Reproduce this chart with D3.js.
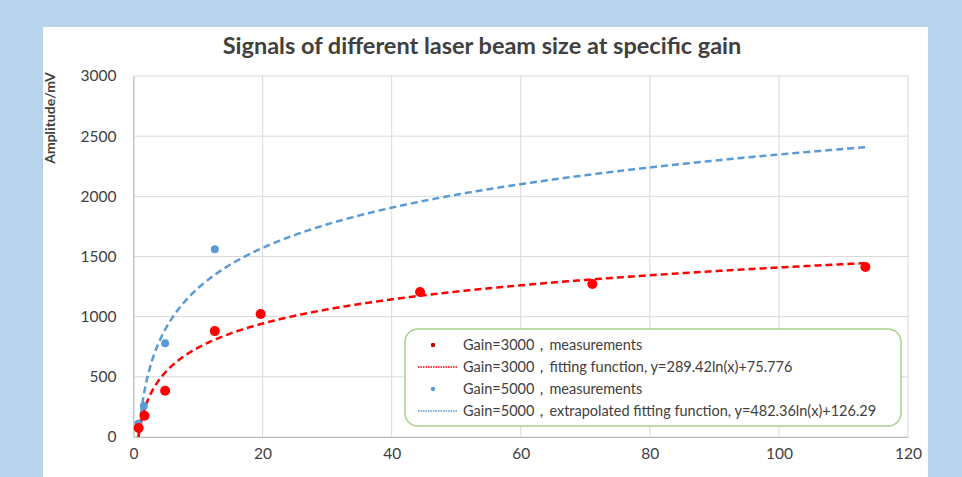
<!DOCTYPE html>
<html>
<head>
<meta charset="utf-8">
<script src="https://cdn.jsdelivr.net/npm/d3@7"></script>
<style>
  body { margin: 0; background: #b7d4ec; }
  svg { display: block; }
  text { font-family: Lato, "Open Sans", sans-serif; fill: #404040; }
</style>
</head>
<body>
<div class="chart"></div>
<script>
// chart data
var gain3000X = [0.8, 1.7, 4.9, 12.6, 19.7, 44.4, 71.1, 113.4];
var gain3000Y = [75, 177, 385, 880, 1022, 1205, 1272, 1413];
var gain5000X = [0.75, 1.6, 4.9, 12.6];
var gain5000Y = [110, 258, 779, 1560];
// fit coefficients: y = a*ln(x) + b
var fit3000 = [289.42, 75.776];
var fit5000 = [482.36, 126.29];
var fitRange = [0.77, 113.4];
var xTicks = [0, 20, 40, 60, 80, 100, 120];
var yTicks = [0, 500, 1000, 1500, 2000, 2500, 3000];
var legendLabels = [
  "Gain=3000\uff0cmeasurements",
  "Gain=3000\uff0cfitting function, y=289.42ln(x)+75.776",
  "Gain=5000\uff0cmeasurements",
  "Gain=5000\uff0cextrapolated fitting function, y=482.36ln(x)+126.29"
];

var width = 962, height = 477;
var plot = {left: 133.5, right: 908, top: 76, bottom: 437};

var svg = d3.select(".chart").append("svg")
  .attr("width", width)
  .attr("height", height);

// white panel
svg.append("rect")
  .attr("x", 43).attr("y", 27)
  .attr("width", 885).attr("height", 460)
  .attr("fill", "#fff");

var xScale = d3.scaleLinear().domain([0, 120]).range([plot.left, plot.right]);
var yScale = d3.scaleLinear().domain([0, 3000]).range([plot.bottom, plot.top]);

// gridlines
svg.append("g").selectAll("line").data(xTicks).enter().append("line")
  .attr("x1", d => xScale(d)).attr("x2", d => xScale(d))
  .attr("y1", plot.top).attr("y2", plot.bottom)
  .attr("stroke", "#d9d9d9").attr("stroke-width", 1);
svg.append("g").selectAll("line").data(yTicks).enter().append("line")
  .attr("x1", plot.left).attr("x2", plot.right)
  .attr("y1", d => yScale(d)).attr("y2", d => yScale(d))
  .attr("stroke", "#d9d9d9").attr("stroke-width", 1);

// axes
var xAxis = d3.axisBottom(xScale).tickValues(xTicks).tickSize(0).tickPadding(11)
  .tickFormat(d3.format("d"));
var xg = svg.append("g").attr("transform", "translate(0," + plot.bottom + ")").call(xAxis);
var yAxis = d3.axisLeft(yScale).tickValues(yTicks).tickSize(0).tickPadding(17)
  .tickFormat(d3.format("d"));
var yg = svg.append("g").attr("transform", "translate(" + plot.left + ",0)").call(yAxis);
[xg, yg].forEach(function(g) {
  g.select(".domain").attr("stroke", "#bfbfbf");
  g.selectAll("text").style("font-size", "15.5px").attr("fill", "#262626");
});

// title
svg.append("text")
  .attr("x", 482).attr("y", 54)
  .attr("text-anchor", "middle")
  .style("font-size", "23.5px").style("font-weight", "bold")
  .attr("fill", "#000")
  .text("Signals of different laser beam size at specific gain");

// y label
svg.append("text")
  .attr("transform", "translate(55,118) rotate(-90)")
  .attr("text-anchor", "middle")
  .style("font-size", "14px").style("font-weight", "bold")
  .attr("fill", "#000")
  .text("Amplitude/mV");

// fitted curves
function fitPoints(coef) {
  var xs = d3.range(fitRange[0], fitRange[1], 0.1).concat([fitRange[1]]);
  return xs.map(x => [x, coef[0] * Math.log(x) + coef[1]]);
}
var line = d3.line().x(d => xScale(d[0])).y(d => yScale(Math.max(0, d[1])));

svg.append("path")
  .attr("d", line(fitPoints(fit5000)))
  .attr("fill", "none").attr("stroke", "#5b9bd5")
  .attr("stroke-width", 2.5).attr("stroke-dasharray", "7,4");
svg.append("path")
  .attr("d", line(fitPoints(fit3000)))
  .attr("fill", "none").attr("stroke", "#ff0000")
  .attr("stroke-width", 2.5).attr("stroke-dasharray", "7,4");

// measurements
svg.append("g").selectAll("circle").data(gain5000X).enter().append("circle")
  .attr("cx", d => xScale(d))
  .attr("cy", (d, i) => yScale(gain5000Y[i]))
  .attr("r", 4).attr("fill", "#5b9bd5");
svg.append("g").selectAll("circle").data(gain3000X).enter().append("circle")
  .attr("cx", d => xScale(d))
  .attr("cy", (d, i) => yScale(gain3000Y[i]))
  .attr("r", 5).attr("fill", "#ff0000");

// legend
var legend = svg.append("g");
legend.append("rect")
  .attr("x", 405).attr("y", 329)
  .attr("width", 496).attr("height", 97)
  .attr("rx", 13).attr("ry", 13)
  .attr("fill", "#fff").attr("stroke", "#a9d18e").attr("stroke-width", 1.5);

var legendColors = ["#c00000", "#ff0000", "#5b9bd5", "#5b9bd5"];
var items = legend.selectAll("g.item").data(legendLabels).enter().append("g")
  .attr("class", "item")
  .attr("transform", (d, i) => "translate(0," + (345 + i * 22) + ")");
items.each(function(d, i) {
  var g = d3.select(this);
  if (i % 2 === 0) {
    g.append("circle").attr("cx", 433).attr("cy", 0).attr("r", 2.2).attr("fill", legendColors[i]);
  } else {
    g.append("line").attr("x1", 418).attr("x2", 457).attr("y1", 0).attr("y2", 0)
      .attr("stroke", legendColors[i]).attr("stroke-width", 1.5).attr("stroke-dasharray", "1.5,1");
  }
  g.append("text").attr("x", 463).attr("y", 5)
    .style("font-size", "14.5px").attr("fill", "#262626").text(d);
});
</script>
</body>
</html>
